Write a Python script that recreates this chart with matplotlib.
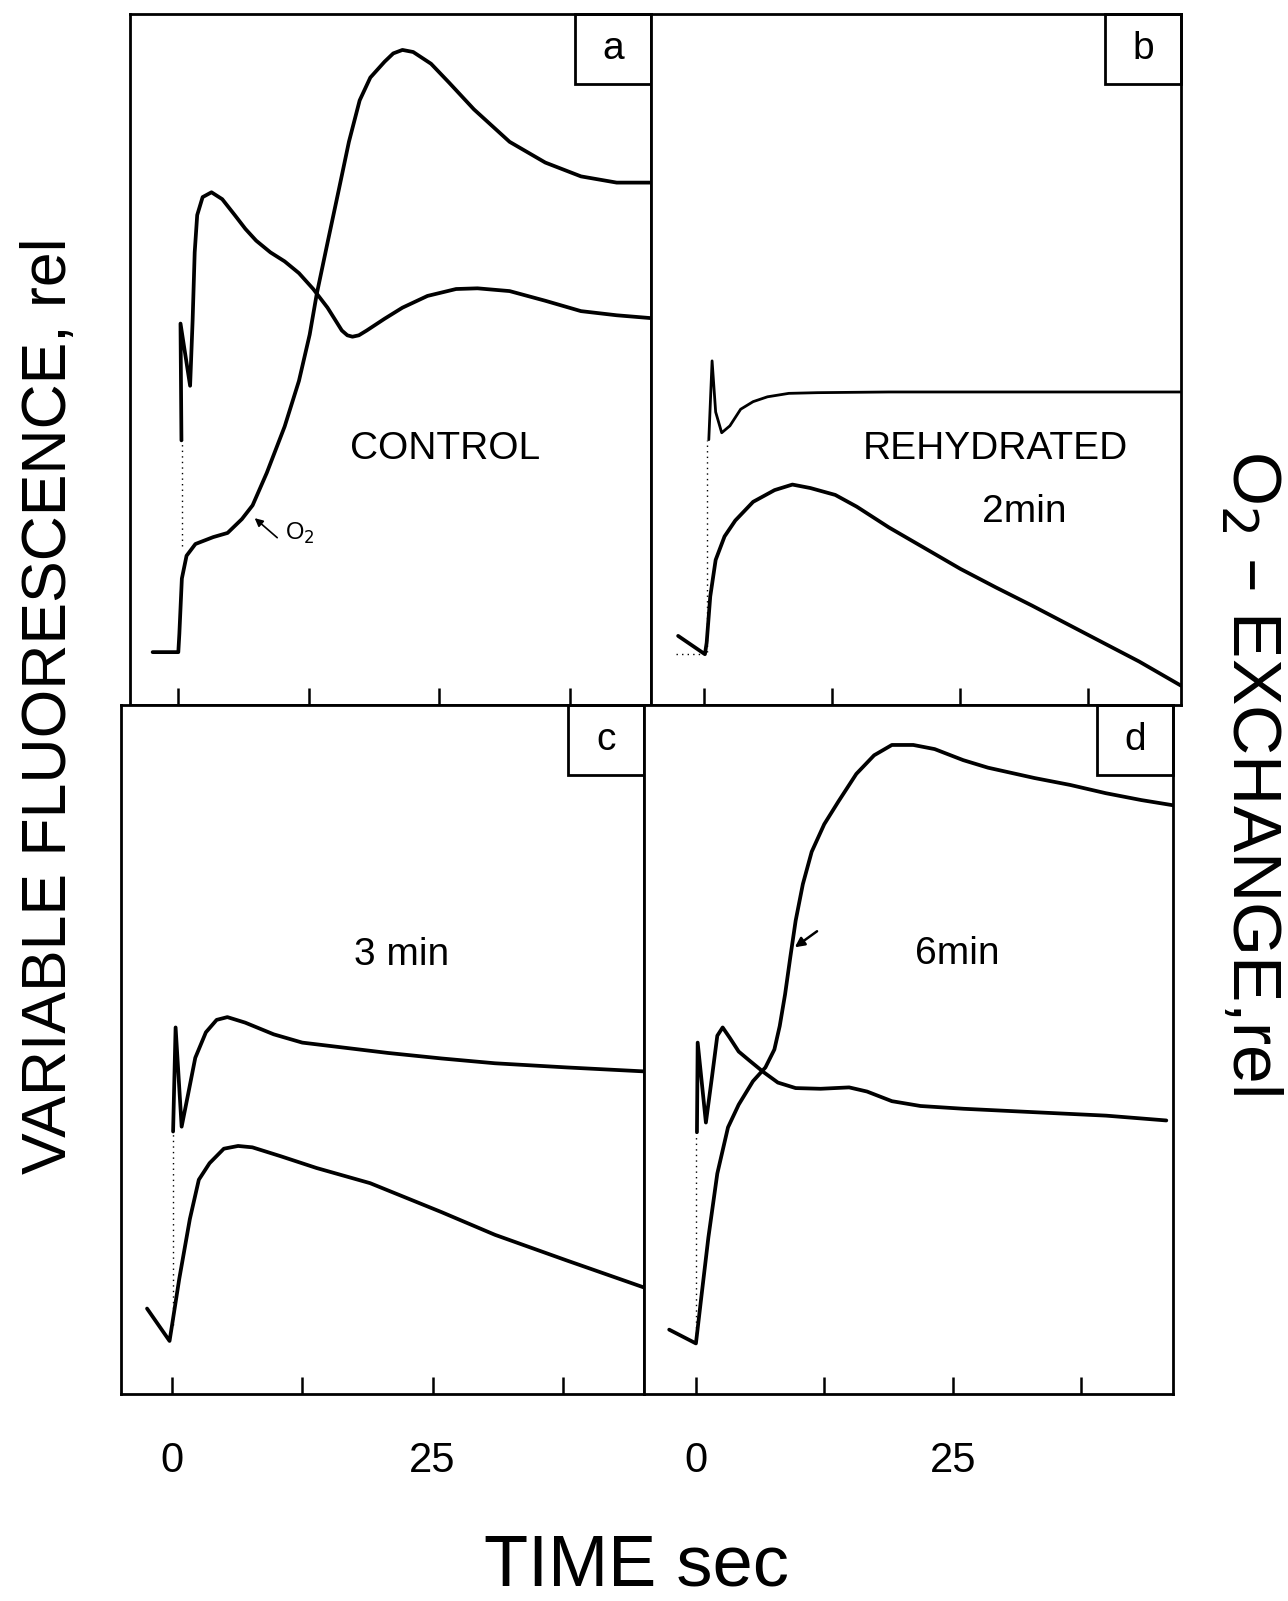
import matplotlib
matplotlib.use("Agg")
import matplotlib.pyplot as plt
from matplotlib import font_manager
from matplotlib.patches import Rectangle


def pick_font(name, fallback="DejaVu Sans"):
    try:
        font_manager.findfont(name, fallback_to_default=False)
        return name
    except Exception:
        return fallback


SANS = pick_font("Liberation Sans")

# ---- data (time in s, signal in relative units 0-100) ----
# panel a, CONTROL
a_fl_x = [0.30, 0.21, 1.13, 1.37, 1.57, 1.81, 2.33, 3.18, 4.21, 5.41, 6.43, 7.46, 8.83, 10.19,
          11.56, 12.93, 14.30, 15.67, 16.20, 16.69, 17.30, 18.06, 19.77, 21.48, 23.88, 26.62,
          28.67, 31.75, 35.17, 38.59, 42.01, 46.0]
a_fl_y = [38.3, 55.2, 46.2, 55.6, 65.5, 70.9, 73.5, 74.2, 73.2, 70.9, 68.9, 67.2, 65.5, 64.2,
          62.5, 60.2, 57.5, 54.2, 53.5, 53.3, 53.5, 54.2, 55.9, 57.5, 59.2, 60.2,
          60.3, 59.9, 58.5, 57.0, 56.4, 55.9]
a_o2_x = [-2.46, 0.0, 0.10, 0.34, 0.79, 1.64, 3.35, 4.72, 6.09, 7.12, 8.48, 10.19, 11.56,
          12.59, 13.27, 14.30, 15.33, 16.35, 17.38, 18.40, 19.77, 20.60, 21.48, 22.51, 24.22,
          25.93, 28.33, 31.75, 35.17, 38.59, 42.01, 46.0]
a_o2_y = [7.65, 7.65, 10.3, 18.3, 21.6, 23.3, 24.3, 24.9, 26.9, 28.9, 33.6, 40.3, 46.9,
          53.6, 59.5, 66.9, 74.2, 81.5, 87.5, 90.8, 93.1, 94.3, 94.8, 94.5, 92.8,
          90.1, 86.2, 81.5, 78.5, 76.5, 75.6, 75.6]

# panel b, REHYDRATED 2 min
b_fl_x = [0.45, 0.77, 1.12, 1.71, 2.51, 3.56, 4.78, 6.18, 8.27, 11.07, 18.05, 47.0]
b_fl_y = [38.4, 49.8, 42.4, 39.4, 40.4, 42.8, 43.9, 44.6, 45.1, 45.2, 45.3, 45.3]
b_o2_x = [-2.55, 0.07, 0.24, 0.59, 1.12, 1.99, 3.04, 4.78, 6.88, 8.62, 10.37, 12.81,
          14.91, 18.05, 21.55, 25.04, 28.53, 32.02, 35.51, 39.0, 42.5, 46.6]
b_o2_y = [10.0, 7.35, 9.0, 15.7, 21.0, 24.4, 26.7, 29.4, 31.1, 31.9, 31.4, 30.4,
          28.7, 25.7, 22.7, 19.7, 17.0, 14.4, 11.7, 9.0, 6.3, 2.8]

# panel c, 3 min
c_fl_x = [0.10, 0.34, 0.92, 1.54, 2.23, 3.25, 4.28, 5.31, 7.02, 9.76, 12.50, 15.24,
          20.72, 25.86, 31.0, 37.85, 45.6]
c_fl_y = [38.1, 53.2, 38.8, 43.5, 48.8, 52.5, 54.3, 54.7, 53.9, 52.2, 51.0, 50.5,
          49.5, 48.7, 48.0, 47.4, 46.8]
c_o2_x = [-2.40, -0.24, 0.0, 0.69, 1.71, 2.57, 3.60, 4.97, 6.34, 7.71, 10.45, 13.87,
          19.01, 25.86, 31.0, 37.85, 45.6]
c_o2_y = [12.4, 7.7, 10.0, 16.7, 25.4, 31.1, 33.5, 35.6, 36.0, 35.8, 34.5, 32.8,
          30.6, 26.4, 23.1, 19.4, 15.3]

# panel d, 6 min
d_fl_x = [0.10, 0.17, 0.97, 1.56, 2.08, 2.60, 3.29, 4.16, 5.20, 6.59, 7.97, 9.70,
          12.13, 14.90, 16.64, 19.06, 21.84, 26.0, 32.9, 39.9, 45.75]
d_fl_y = [38.0, 51.0, 39.4, 46.0, 52.0, 53.2, 51.7, 49.7, 48.4, 46.7, 45.2, 44.4,
          44.3, 44.5, 43.9, 42.5, 41.8, 41.4, 40.9, 40.4, 39.7]
d_o2_x = [-2.60, 0.0, 0.52, 1.21, 2.08, 3.12, 4.16, 5.55, 6.76, 7.63, 8.15, 8.67,
          9.18, 9.70, 10.40, 11.26, 12.48, 13.86, 15.60, 17.33, 19.06, 21.14, 23.22,
          25.99, 28.41, 32.93, 36.39, 39.86, 43.32, 46.6]
d_o2_y = [9.34, 7.34, 14.0, 22.7, 32.0, 38.7, 42.0, 45.4, 47.4, 50.0, 53.4, 58.0,
          63.4, 68.7, 74.0, 78.7, 82.7, 86.0, 90.0, 92.7, 94.2, 94.2, 93.6,
          92.0, 90.9, 89.4, 88.4, 87.2, 86.2, 85.4]

panel_letters = ["a", "b", "c", "d"]
panel_notes = [["CONTROL"], ["REHYDRATED", "2min"], ["3 min"], ["6min"]]
note_pos = [[(25.6, 37.1)], [(28.5, 37.1), (31.3, 28.0)], [(22.0, 63.7)], [(25.4, 63.9)]]
# dotted trigger lines: (x, y_from, y_to)
dotted = [(0.34, 23.0, 38.3), (0.30, 7.7, 38.4), (0.10, 10.0, 38.0), (0.0, 8.0, 38.0)]
xlims = [(-4.63, 45.3), (-5.2, 46.6), (-4.9, 45.3), (-5.05, 46.4)]
xticks = [0, 12.5, 25, 37.5]
xtick_labels = ["0", "", "25", ""]

W, H = 1288, 1601
fig = plt.figure(figsize=(W / 100, H / 100), dpi=100)

# panel frames in pixels (scan is slightly rotated, bottom row sits a little left)
frames = [(130, 651, 14, 705), (651, 1181, 14, 705),
          (121, 644, 705, 1394), (644, 1173, 705, 1394)]
axes = []
for (x0, x1, y0, y1) in frames:
    ax = fig.add_axes([x0 / W, 1 - y1 / H, (x1 - x0) / W, (y1 - y0) / H])
    axes.append(ax)

fl = [(a_fl_x, a_fl_y), (b_fl_x, b_fl_y), (c_fl_x, c_fl_y), (d_fl_x, d_fl_y)]
o2 = [(a_o2_x, a_o2_y), (b_o2_x, b_o2_y), (c_o2_x, c_o2_y), (d_o2_x, d_o2_y)]

for i, ax in enumerate(axes):
    fx, fy = fl[i]
    ox, oy = o2[i]
    ax.plot(ox, oy, color="black", lw=2.7, solid_joinstyle="round", solid_capstyle="round")
    ax.plot(fx, fy, color="black", lw=2.0 if i == 1 else 2.7,
            solid_joinstyle="round", solid_capstyle="round")
    dx, dy0, dy1 = dotted[i]
    ax.plot([dx, dx], [dy0, dy1], color="black", lw=1.0, ls=(0, (1, 3)))
    if i == 1:
        ax.plot([-2.8, 0.0], [7.4, 7.4], color="black", lw=1.0, ls=(0, (1, 3)))

    ax.set_xlim(*xlims[i])
    ax.set_ylim(0, 100)
    ax.set_yticks([])
    ax.set_xticks(xticks)
    if i >= 2:
        ax.set_xticklabels(xtick_labels, fontsize=30, family=SANS)
    else:
        ax.set_xticklabels([])
    ax.tick_params(axis="x", direction="in", length=12, width=1.8, pad=34)
    for sp in ax.spines.values():
        sp.set_linewidth(2.0)

    # letter box at top right
    bw = 76 / (frames[i][1] - frames[i][0])
    bh = 70 / (frames[i][3] - frames[i][2])
    ax.add_patch(Rectangle((1 - bw, 1 - bh), bw, bh, transform=ax.transAxes,
                           fill=False, lw=2.0, ec="black", clip_on=False))
    ax.text(1 - bw / 2, 1 - bh / 2, panel_letters[i], transform=ax.transAxes,
            ha="center", va="center", fontsize=28, family=SANS)

    for txt, (tx, ty) in zip(panel_notes[i], note_pos[i]):
        ax.text(tx, ty, txt, ha="center", va="center", fontsize=28, family=SANS)

# O2 marker in panel a
axes[0].annotate("", xy=(7.12, 27.3), xytext=(9.68, 23.95),
                 arrowprops=dict(arrowstyle="-|>", lw=1.2, color="black", mutation_scale=12))
axes[0].text(10.2, 24.8, "O$_2$", fontsize=17, family=SANS, ha="left", va="center")
# small arrow mark in panel d
axes[3].annotate("", xy=(9.4, 64.6), xytext=(12.0, 67.4),
                 arrowprops=dict(arrowstyle="-|>", lw=1.8, color="black", mutation_scale=14))

fig.text(50 / W, 1 - 706 / H, "VARIABLE FLUORESCENCE, rel", rotation=90,
         ha="center", va="center", fontsize=45, family=SANS)
fig.text(1251 / W, 1 - 772 / H, "O$_2$ – EXCHANGE,rel", rotation=270,
         ha="center", va="center", fontsize=50, family=SANS)
fig.text(636 / W, 1 - 1567 / H, "TIME sec", ha="center", va="center",
         fontsize=52, family=SANS)

fig.savefig("out.png", dpi=100)
